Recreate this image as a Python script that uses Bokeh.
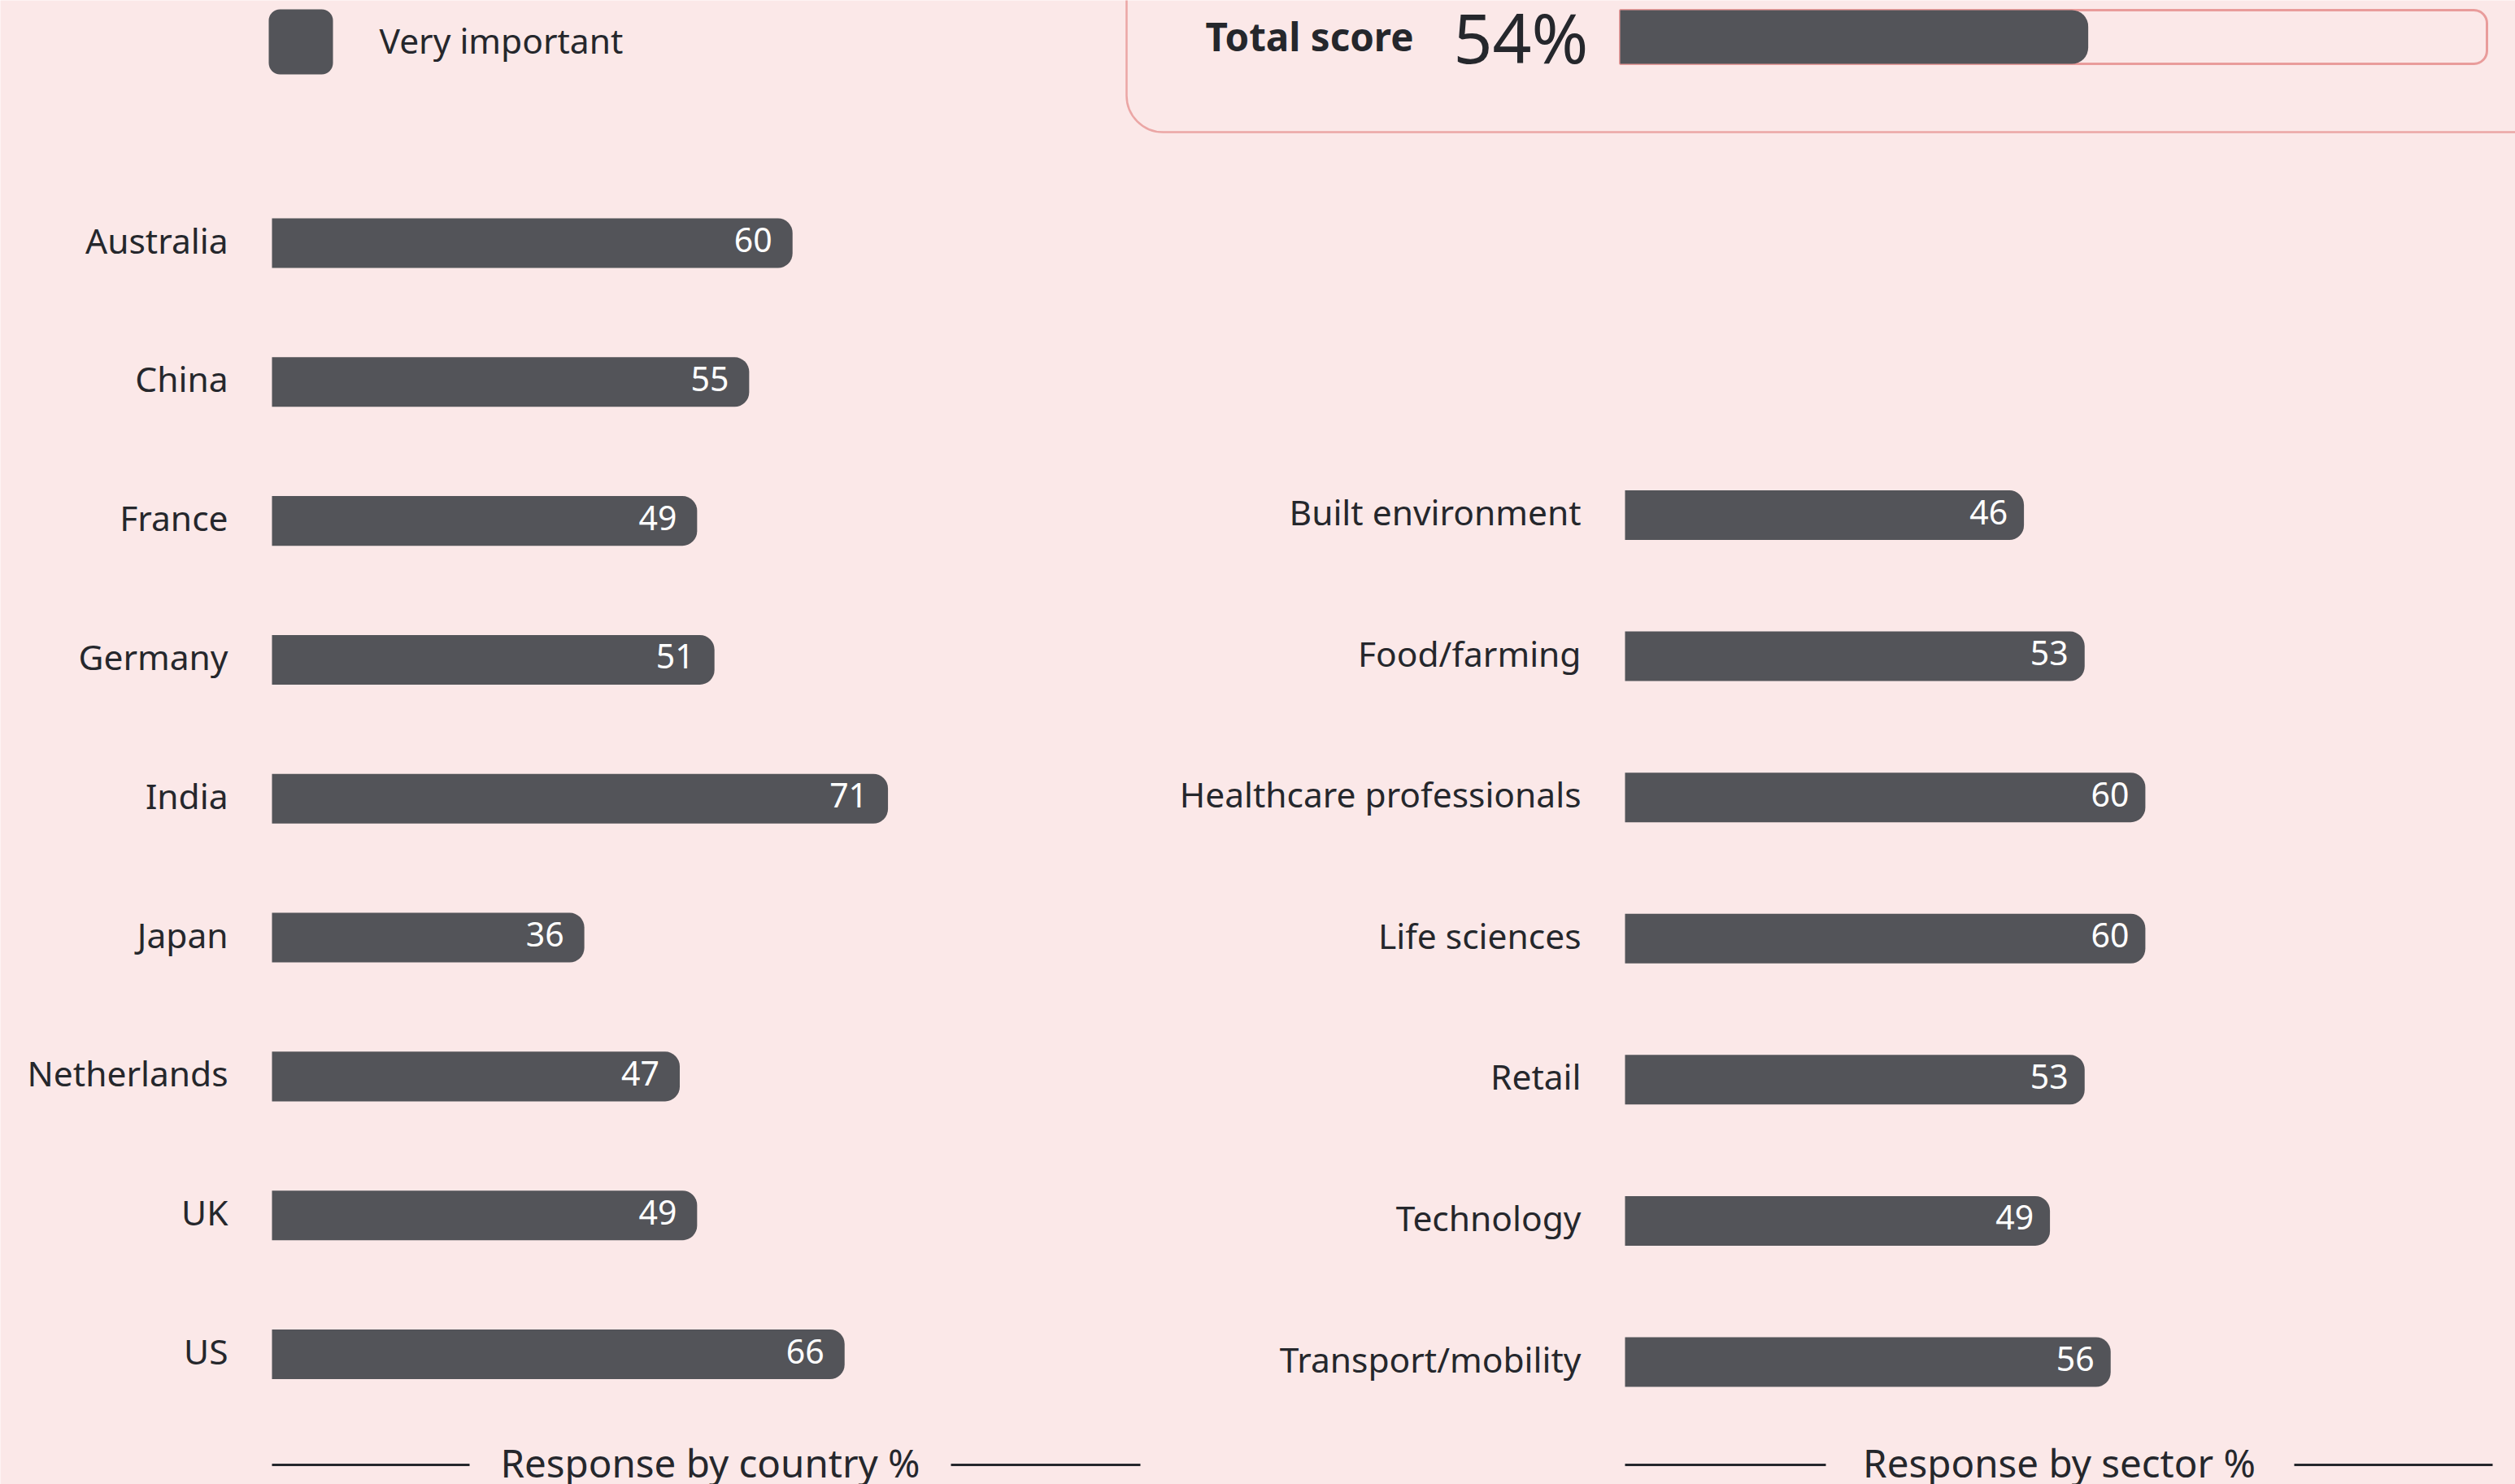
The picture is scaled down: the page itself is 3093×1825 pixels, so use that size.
from bokeh.plotting import figure
from bokeh.models import Range1d, ColumnDataSource
from bokeh.core.properties import value
from bokeh.embed import file_html
from bokeh.resources import INLINE

# ---------------- data ----------------
countries = ["Australia", "China", "France", "Germany", "India", "Japan",
             "Netherlands", "UK", "US"]
country_values = [60, 55, 49, 51, 71, 36, 47, 49, 66]

sectors = ["Built environment", "Food/farming", "Healthcare professionals",
           "Life sciences", "Retail", "Technology", "Transport/mobility"]
sector_values = [46, 53, 60, 60, 53, 49, 56]

total_score = [54]
total_label = "Total score"
legend_label = "Very important"
country_title = "Response by country %"
sector_title = "Response by sector %"

# ---------------- style / layout ----------------
BG = "#fbe8e8"
BAR = "#535459"
INK = "#25272c"
PINK = "#e99c9b"
FONT = value("Noto Sans")

W, H = 3093, 1825           # canvas size
OFF = 0                     # page offset of the canvas
REF_H = 1825
X0, X1 = OFF, OFF + W       # reference-pixel extent of the canvas
Y0, Y1 = OFF, OFF + H
TXT_DY = -4                 # small upward nudge of text on the bars


def lin(pa, va, pb, vb):
    k = (vb - va) / (pb - pa)
    return lambda px: va + (px - pa) * k


def xrange_from(pa, va, pb, vb):
    f = lin(pa, va, pb, vb)
    return Range1d(start=f(X0), end=f(X1))


def yrange_from(pa, va, pb, vb):
    f = lin(pa, va, pb, vb)
    return Range1d(start=f(Y1), end=f(Y0))


def Y(ry):  # layout y from reference (top-down) pixel
    return REF_H - ry


p = figure(width=W, height=H, output_backend="svg", toolbar_location=None,
           x_axis_location=None, y_axis_location=None,
           x_range=Range1d(X0, X1), y_range=Range1d(Y(Y1), Y(Y0)),
           min_border=0, background_fill_color=BG, border_fill_color=BG,
           outline_line_color=None)
p.grid.visible = False

nc, ns = len(countries), len(sectors)
p.extra_x_ranges = {
    "cx": xrange_from(334, 0, 1401, 100),
    "sx": xrange_from(1998, 0, 3064.5, 100),
    "tx": xrange_from(1992, 0, 3058, 100),
}
p.extra_y_ranges = {
    "cy": yrange_from(298.5, nc - 1, 1665, 0),
    "sy": yrange_from(633, ns - 1, 1674.5, 0),
}

# ---------------- country panel ----------------
csrc = ColumnDataSource(dict(
    pos=[nc - 1 - i for i in range(nc)],
    name=countries, val=country_values,
    lab=[str(v) for v in country_values]))
p.hbar(y="pos", left=0, right="val", height=61 / 170.8, source=csrc,
       x_range_name="cx", y_range_name="cy", fill_color=BAR, line_color=None,
       border_radius=(0, 18, 18, 0))
p.text(x=0, y="pos", text="name", source=csrc, x_range_name="cx", y_range_name="cy",
       x_offset=-54, y_offset=TXT_DY, text_align="right", text_baseline="middle",
       text_font=FONT, text_font_size="42.5px", text_color=INK)
p.text(x="val", y="pos", text="lab", source=csrc, x_range_name="cx", y_range_name="cy",
       x_offset=-25, y_offset=TXT_DY, text_align="right", text_baseline="middle",
       text_font=FONT, text_font_size="41px", text_color="white")

# ---------------- sector panel ----------------
ssrc = ColumnDataSource(dict(
    pos=[ns - 1 - i for i in range(ns)],
    name=sectors, val=sector_values,
    lab=[str(v) for v in sector_values]))
p.hbar(y="pos", left=0, right="val", height=61 / 173.6, source=ssrc,
       x_range_name="sx", y_range_name="sy", fill_color=BAR, line_color=None,
       border_radius=(0, 18, 18, 0))
p.text(x=0, y="pos", text="name", source=ssrc, x_range_name="sx", y_range_name="sy",
       x_offset=-54, y_offset=TXT_DY, text_align="right", text_baseline="middle",
       text_font=FONT, text_font_size="42.5px", text_color=INK)
p.text(x="val", y="pos", text="lab", source=ssrc, x_range_name="sx", y_range_name="sy",
       x_offset=-20, y_offset=TXT_DY, text_align="right", text_baseline="middle",
       text_font=FONT, text_font_size="41px", text_color="white")

# ---------------- total score box ----------------
p.quad(left=1385, right=3400, top=Y(-300), bottom=Y(162), fill_color=None,
       line_color="#eba6a5", line_width=2.5, border_radius=45)
p.hbar(y=Y(45), left=0, right=100, height=66, x_range_name="tx",
       fill_color=None, line_color=PINK, line_width=3, border_radius=(0, 16, 16, 0))
p.hbar(y=Y(45), left=0, right=total_score, height=66, x_range_name="tx",
       fill_color=BAR, line_color=None, border_radius=(0, 20, 20, 0))
p.text(x=[1738], y=[Y(43.5)], text=[total_label], text_align="right",
       text_baseline="middle", text_font=FONT, text_font_style="bold",
       text_font_size="47.5px", text_color=INK)
p.text(x=[1787], y=[Y(45)], text=[f"{total_score[0]}%"], text_align="left",
       text_baseline="middle", text_font=FONT, text_font_size="84px", text_color=INK)

# ---------------- legend ----------------
p.quad(left=330, right=409, top=Y(11), bottom=Y(91), fill_color=BAR,
       line_color=None, border_radius=14)
p.text(x=[466], y=[Y(49)], text=[legend_label], text_align="left",
       text_baseline="middle", text_font=FONT, text_font_size="42.5px", text_color=INK)

# ---------------- panel footers ----------------
p.segment(x0=[334, 1169, 1998, 2821], x1=[577, 1402, 2245, 3065],
          y0=[Y(1801)] * 4, y1=[Y(1801)] * 4, line_color=INK, line_width=3)
p.text(x=[873, 2532], y=[Y(1798)] * 2, text=[country_title, sector_title],
       text_align="center", text_baseline="middle", text_font=FONT,
       text_font_size="47.5px", text_color=INK)

open("out.html", "w").write(file_html(p, INLINE))
